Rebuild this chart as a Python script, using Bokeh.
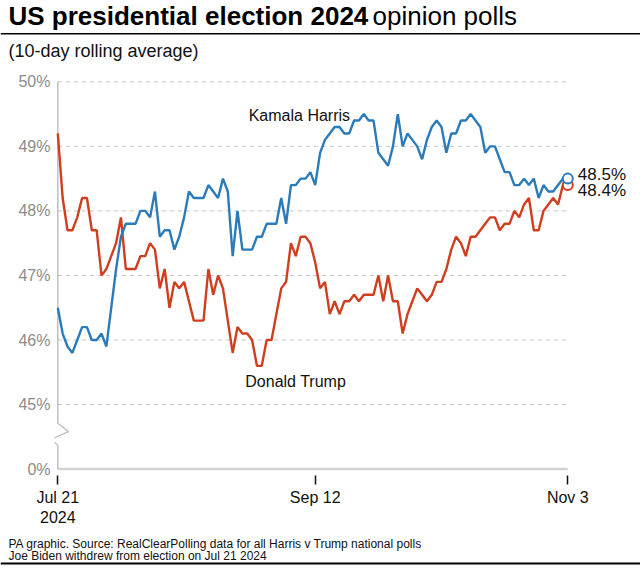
import numpy as np
import pandas as pd
from bokeh.plotting import figure
from bokeh.layouts import column
from bokeh.models import Range1d, FixedTicker, Label, ColumnDataSource
from bokeh.core.properties import value
from bokeh.embed import file_html
from bokeh.resources import INLINE

# ---------------- data ----------------
start_date = "2024-07-21"
harris = [46.5, 46.1, 45.9, 45.8, 46.0, 46.2, 46.2, 46.0, 46.0, 46.1,
          45.9, 46.5, 47.1, 47.6, 47.8, 47.8, 47.8, 48.0, 48.0, 47.9,
          48.3, 47.6, 47.7, 47.7, 47.4, 47.6, 47.9, 48.3, 48.2, 48.2,
          48.2, 48.4, 48.3, 48.2, 48.5, 48.3, 47.3, 48.0, 47.4, 47.4,
          47.4, 47.6, 47.6, 47.8, 47.8, 47.8, 48.2, 47.8, 48.4, 48.4,
          48.5, 48.5, 48.6, 48.4, 48.9, 49.1, 49.2, 49.3, 49.3, 49.2,
          49.2, 49.4, 49.4, 49.5, 49.4, 49.4, 48.9, 48.8, 48.7, 49.0,
          49.5, 49.0, 49.2, 49.1, 49.0, 48.8, 49.1, 49.3, 49.4, 49.3,
          48.9, 49.2, 49.2, 49.4, 49.4, 49.5, 49.4, 49.3, 48.9, 49.0,
          49.0, 48.8, 48.6, 48.6, 48.4, 48.4, 48.5, 48.4, 48.5, 48.2,
          48.4, 48.3, 48.3, 48.4, 48.5, 48.5]
trump = [49.2, 48.2, 47.7, 47.7, 47.9, 48.2, 48.2, 47.7, 47.7, 47.0,
         47.1, 47.3, 47.5, 47.9, 47.1, 47.1, 47.1, 47.3, 47.3, 47.5,
         47.4, 46.8, 47.1, 46.5, 46.9, 46.8, 46.9, 46.6, 46.3, 46.3,
         46.3, 47.1, 46.7, 47.0, 46.8, 46.3, 45.8, 46.2, 46.1, 46.1,
         46.0, 45.6, 45.6, 46.0, 46.0, 46.4, 46.8, 46.9, 47.5, 47.3,
         47.6, 47.6, 47.5, 47.2, 46.8, 46.9, 46.4, 46.6, 46.4, 46.6,
         46.6, 46.7, 46.6, 46.7, 46.7, 46.7, 47.0, 46.6, 47.0, 46.6,
         46.6, 46.1, 46.4, 46.6, 46.8, 46.7, 46.6, 46.7, 46.9, 46.9,
         47.1, 47.4, 47.6, 47.5, 47.3, 47.6, 47.6, 47.7, 47.8, 47.9,
         47.9, 47.7, 47.8, 47.8, 48.0, 47.9, 48.1, 48.2, 47.7, 47.7,
         48.0, 48.1, 48.2, 48.1, 48.4, 48.4]
series_names = ["Kamala Harris", "Donald Trump"]
x_tick_dates = ["2024-07-21", "2024-09-12", "2024-11-03"]
x_tick_labels = ["Jul 21\n2024", "Sep 12", "Nov 3"]
# the axis is broken below 45%: the tick drawn at 44 stands for 0%
y_ticks = [44, 45, 46, 47, 48, 49, 50]
y_tick_labels = ["0%", "45%", "46%", "47%", "48%", "49%", "50%"]

title_bold = "US presidential election 2024"
title_regular = "opinion polls"
subtitle = "(10-day rolling average)"
footer_lines = ["PA graphic. Source: RealClearPolling data for all Harris v Trump national polls",
                "Joe Biden withdrew from election on Jul 21 2024"]

# ---------------- styling ----------------
BLUE = "#2b7bba"
RED = "#cf3f1f"
FONT = "Liberation Sans"
DAY = 86400000
W = 640


def blank(height, y_top):
    """A figure without axes whose data units are page pixels (y downwards)."""
    f = figure(width=W, height=height, x_range=Range1d(0, W),
               y_range=Range1d(y_top + height, y_top),
               output_backend="svg", toolbar_location=None,
               x_axis_location=None, y_axis_location=None,
               min_border=0, frame_align=False)
    f.outline_line_color = None
    f.xgrid.visible = False
    f.ygrid.visible = False
    return f


# ---------------- header ----------------
head = blank(62, 0)
head.text(x=[8], y=[15.5], text=[title_bold], text_font=value(FONT),
          text_font_style="bold", text_font_size="26px", text_color="#000000",
          text_baseline="middle")
head.text(x=[372], y=[15.5], text=[title_regular], text_font=value(FONT),
          text_font_size="26px", text_color="#000000",
          text_baseline="middle")
head.segment(x0=[0], x1=[W], y0=[33.3], y1=[33.3], line_color="#000000",
             line_width=1.5)
head.text(x=[8], y=[50], text=[subtitle], text_font=value(FONT),
          text_font_size="18px", text_color="#111111",
          text_baseline="middle")

# ---------------- main chart ----------------
dates = pd.date_range(start_date, periods=len(harris), freq="D")
t0 = dates[0]
t_end = dates[-1]
t0_ms = t0.value // 10**6


def d(days):
    return t0 + pd.Timedelta(days=days)


p = figure(width=W, height=470, x_axis_type="datetime",
           x_range=Range1d(t0_ms - 0.68 * DAY, t0_ms + 119.97 * DAY),
           y_range=Range1d(43.901, 50.175),
           output_backend="svg", toolbar_location=None,
           min_border_left=54, min_border_right=0,
           min_border_top=8, min_border_bottom=57, frame_align=False)
p.outline_line_color = None
p.xgrid.visible = False
p.ygrid.visible = False

# x axis
tick_ms = [pd.Timestamp(s).value // 10**6 for s in x_tick_dates]
p.xaxis.ticker = FixedTicker(ticks=tick_ms)
p.xaxis.major_label_overrides = dict(zip(tick_ms, x_tick_labels))
p.xaxis.axis_line_color = None
p.xaxis.major_tick_in = 0
p.xaxis.major_tick_out = 9
p.xaxis.major_tick_line_color = "#111111"
p.xaxis.major_tick_line_width = 1.5
p.xaxis.minor_tick_line_color = None
p.xaxis.major_label_standoff = 4
p.xaxis.major_label_text_font = FONT
p.xaxis.major_label_text_font_size = "16px"
p.xaxis.major_label_text_color = "#111111"

# y axis
p.yaxis.ticker = FixedTicker(ticks=y_ticks)
p.yaxis.major_label_overrides = dict(zip(y_ticks, y_tick_labels))
p.yaxis.axis_line_color = None
p.yaxis.major_tick_line_color = None
p.yaxis.minor_tick_line_color = None
p.yaxis.major_tick_out = 0
p.yaxis.major_tick_in = 0
p.yaxis.major_label_standoff = 4
p.yaxis.major_label_text_font = FONT
p.yaxis.major_label_text_font_size = "16px"
p.yaxis.major_label_text_color = "#8c8c8c"

# dashed gridlines 45%..50%
grid_vals = [v for v in y_ticks if v >= 45]
p.segment(x0=[t0] * len(grid_vals), x1=[t_end] * len(grid_vals),
          y0=grid_vals, y1=grid_vals, line_color="#c4c4c4",
          line_width=1, line_dash="4 4")

# baseline (0%) and left axis line with break symbol
p.segment(x0=[t0], x1=[t_end], y0=[y_ticks[0]], y1=[y_ticks[0]],
          line_color="#d2d2d2", line_width=2.5)
p.line(x=[t0, t0, d(2.2), d(-1.45), t0, t0],
       y=[y_ticks[-1], 44.71, 44.58, 44.46, 44.37, y_ticks[0]],
       line_color="#c0c0c0", line_width=1.5)

# series
p.line(dates, trump, line_color=RED, line_width=2.4)
p.line(dates, harris, line_color=BLUE, line_width=2.4)

# end markers
p.scatter(x=[t_end], y=[trump[-1]], size=10, marker="circle",
          fill_color="white", line_color=RED, line_width=2)
p.scatter(x=[t_end], y=[harris[-1]], size=10, marker="circle",
          fill_color="white", line_color=BLUE, line_width=2)

end_src = ColumnDataSource(dict(
    x=[t_end, t_end], y=[harris[-1], trump[-1]],
    text=[f"{harris[-1]:.1f}%", f"{trump[-1]:.1f}%"],
    yoff=[-4, 5]))
p.text(x="x", y="y", text="text", y_offset="yoff", x_offset=10,
       source=end_src, text_font=value(FONT), text_font_size="17px",
       text_color="#111111", text_baseline="middle", text_align="left")

# series labels
p.add_layout(Label(x=d(39.3), y=49.48, text=series_names[0],
                   text_font=FONT, text_font_size="16px", text_color="#111111",
                   text_baseline="middle", text_align="left"))
p.add_layout(Label(x=d(38.6), y=45.36, text=series_names[1],
                   text_font=FONT, text_font_size="16px", text_color="#111111",
                   text_baseline="middle", text_align="left"))

# ---------------- footer ----------------
foot = blank(37, 532)
foot.text(x=[8, 8], y=[543.3, 555], text=footer_lines, text_font=value(FONT),
          text_font_size="12px", text_color="#111111",
          text_baseline="middle")
foot.segment(x0=[0], x1=[W], y0=[563], y1=[563], line_color="#000000",
             line_width=2)

page = column(head, p, foot, spacing=0)
open("out.html", "w").write(file_html(page, INLINE))
